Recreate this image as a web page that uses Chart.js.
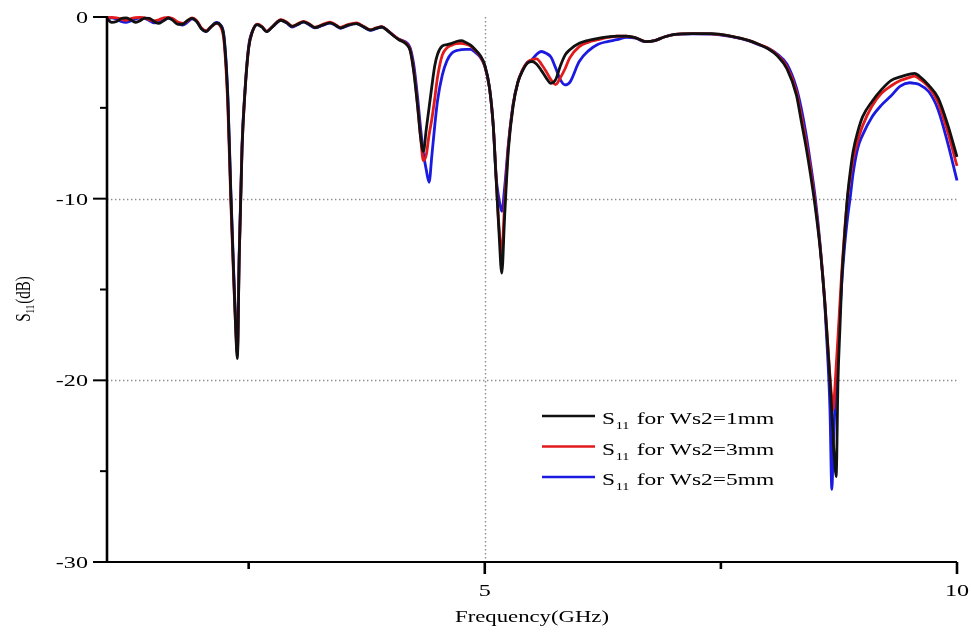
<!DOCTYPE html>
<html>
<head>
<meta charset="utf-8">
<title>S11 vs Frequency</title>
<script src="https://cdn.jsdelivr.net/npm/chart.js@4.4.1/dist/chart.umd.min.js"></script>
<style>
  html, body { margin: 0; padding: 0; background: #fff; }
  canvas { display: block; }
</style>
</head>
<body>
<canvas id="c" width="971" height="633" style="width:971px;height:633px"></canvas>
<script>
// Frequency sweep (GHz), shared by all three traces
const freqGHz = [
  1.00,1.05,1.10,1.15,1.20,1.25,1.30,1.35,1.40,1.45,1.50,1.55,1.60,1.65,1.70,1.75,1.80,1.85,1.90,1.95,2.00,2.05,2.10,
  2.16,2.20,2.24,2.28,2.31,2.34,2.36,2.38,2.40,2.43,2.46,2.50,2.54,2.59,2.64,2.69,2.76,2.84,
  2.90,2.96,3.02,3.08,3.14,3.20,3.28,3.36,3.42,3.47,3.55,3.64,3.72,3.79,3.85,3.91,3.97,4.03,4.09,4.13,4.17,4.21,
  4.25,4.29,4.32,4.35,4.38,4.41,4.44,4.47,4.50,4.55,4.60,4.65,4.70,4.75,4.80,4.85,4.90,4.95,5.00,
  5.05,5.09,5.12,5.15,5.18,5.21,5.25,5.30,5.35,5.40,5.45,5.50,5.55,5.60,5.65,5.70,5.75,5.80,5.85,5.90,
  6.00,6.10,6.20,6.30,6.40,6.50,6.60,6.70,6.80,6.90,7.00,7.20,7.40,7.60,7.80,7.90,8.00,8.10,8.20,8.30,
  8.35,8.40,8.45,8.50,8.55,8.60,8.63,8.655,8.675,8.69,8.705,8.72,8.74,8.76,8.78,8.81,8.84,8.87,8.90,8.95,
  9.00,9.10,9.20,9.30,9.40,9.50,9.55,9.60,9.70,9.80,9.90,10.00
];

// S11 (dB) for Ws2 = 1 mm
const s11Ws2_1mm = [
  -0.10,-0.30,-0.25,-0.08,-0.05,-0.15,-0.30,-0.20,-0.06,-0.08,-0.25,-0.35,-0.20,-0.05,-0.20,-0.40,-0.40,-0.20,-0.08,-0.25,-0.65,-0.80,-0.55,
  -0.33,-0.45,-1.2,-4.6,-9.6,-14.0,-16.8,-18.8,-13.2,-7.2,-4.2,-1.7,-0.8,-0.42,-0.55,-0.8,-0.5,-0.18,
  -0.30,-0.52,-0.40,-0.27,-0.40,-0.58,-0.45,-0.32,-0.45,-0.60,-0.45,-0.36,-0.55,-0.72,-0.62,-0.55,-0.75,-1.02,-1.25,-1.35,-1.50,-1.85,
  -3.1,-5.0,-6.6,-7.4,-6.2,-5.0,-3.8,-2.7,-2.05,-1.6,-1.52,-1.45,-1.35,-1.30,-1.40,-1.55,-1.80,-2.10,-2.65,
  -3.9,-6.0,-8.9,-11.8,-14.1,-11.0,-7.3,-4.9,-3.6,-2.95,-2.55,-2.45,-2.6,-2.95,-3.35,-3.65,-3.45,-2.7,-2.1,-1.8,
  -1.45,-1.28,-1.17,-1.10,-1.05,-1.05,-1.15,-1.35,-1.30,-1.10,-0.97,-0.92,-0.92,-1.05,-1.30,-1.50,-1.75,-2.15,-2.85,-4.3,
  -5.7,-7.1,-8.7,-10.5,-12.7,-15.7,-18.0,-20.0,-21.8,-23.4,-24.5,-25.3,-20.0,-17.2,-14.5,-12.0,-9.9,-8.5,-7.4,-6.3,
  -5.5,-4.65,-4.0,-3.5,-3.3,-3.15,-3.1,-3.25,-3.75,-4.45,-5.9,-7.7
];

// S11 (dB) for Ws2 = 3 mm
const s11Ws2_3mm = [
  -0.05,-0.02,-0.05,-0.12,-0.18,-0.10,-0.03,-0.02,-0.05,-0.15,-0.22,-0.15,-0.05,-0.02,-0.10,-0.28,-0.35,-0.22,-0.05,-0.20,-0.60,-0.75,-0.55,
  -0.35,-0.50,-1.4,-5.0,-10.0,-14.3,-16.8,-18.6,-13.2,-7.2,-4.2,-1.7,-0.8,-0.40,-0.52,-0.78,-0.48,-0.15,
  -0.27,-0.50,-0.38,-0.24,-0.37,-0.56,-0.42,-0.28,-0.42,-0.57,-0.42,-0.33,-0.52,-0.70,-0.60,-0.53,-0.73,-1.00,-1.22,-1.32,-1.45,-1.80,
  -3.0,-4.9,-6.6,-7.9,-7.6,-6.5,-5.6,-4.5,-3.3,-2.1,-1.7,-1.55,-1.47,-1.45,-1.50,-1.60,-1.85,-2.15,-2.70,
  -3.9,-6.0,-8.8,-11.5,-13.0,-10.3,-7.1,-4.85,-3.6,-2.9,-2.5,-2.35,-2.3,-2.6,-3.0,-3.45,-3.72,-3.35,-2.85,-2.25,
  -1.63,-1.38,-1.25,-1.12,-1.06,-1.05,-1.15,-1.35,-1.30,-1.10,-0.97,-0.92,-0.93,-1.05,-1.30,-1.50,-1.72,-2.10,-2.75,-4.1,
  -5.4,-6.8,-8.4,-10.3,-12.6,-15.6,-17.9,-19.8,-21.0,-21.6,-20.6,-19.3,-17.6,-15.8,-14.0,-11.8,-10.0,-8.8,-7.8,-6.8,
  -6.0,-4.9,-4.2,-3.8,-3.5,-3.32,-3.25,-3.4,-3.85,-4.7,-6.3,-8.2
];

// S11 (dB) for Ws2 = 5 mm
const s11Ws2_5mm = [
  -0.10,-0.05,-0.12,-0.25,-0.30,-0.22,-0.12,-0.05,-0.08,-0.20,-0.32,-0.30,-0.18,-0.08,-0.15,-0.35,-0.45,-0.30,-0.10,-0.25,-0.65,-0.80,-0.55,
  -0.30,-0.42,-1.1,-4.4,-9.4,-13.8,-16.5,-18.4,-13.0,-7.0,-4.1,-1.6,-0.78,-0.42,-0.55,-0.8,-0.5,-0.18,
  -0.32,-0.55,-0.42,-0.28,-0.42,-0.60,-0.47,-0.33,-0.47,-0.62,-0.47,-0.37,-0.56,-0.74,-0.64,-0.55,-0.75,-1.00,-1.22,-1.30,-1.40,-1.70,
  -2.7,-4.5,-6.1,-7.5,-8.4,-9.1,-7.6,-6.0,-4.6,-3.2,-2.4,-2.0,-1.85,-1.80,-1.78,-1.78,-1.95,-2.20,-2.70,
  -3.9,-6.0,-8.8,-10.0,-10.7,-9.4,-7.0,-4.8,-3.6,-2.95,-2.5,-2.35,-2.05,-1.9,-2.0,-2.2,-2.8,-3.45,-3.74,-3.6,
  -2.45,-1.85,-1.50,-1.35,-1.25,-1.12,-1.17,-1.36,-1.30,-1.10,-0.97,-0.93,-0.94,-1.07,-1.32,-1.52,-1.72,-2.05,-2.6,-3.9,
  -5.0,-6.4,-8.1,-10.0,-12.5,-15.8,-18.6,-21.6,-26.0,-23.6,-21.8,-20.3,-18.3,-16.3,-14.6,-12.6,-11.1,-9.9,-8.6,-7.2,
  -6.5,-5.5,-4.85,-4.35,-3.8,-3.62,-3.65,-3.72,-4.1,-5.1,-6.9,-9.0
];

// Axis ticks
const xMajorTicks = [5, 10];
const xMinorTicks = [2.5, 7.5];
const yMajorTicks = [0, -10, -20, -30];
const yMinorTicks = [-5, -15, -25];
const xGridLines = [5];
const yGridLines = [-10, -20];

const seriesNames = ['for Ws2=1mm', 'for Ws2=3mm', 'for Ws2=5mm'];
const seriesColors = ['#111111', '#e31a1c', '#1a1ae0'];
const seriesValues = [s11Ws2_1mm, s11Ws2_3mm, s11Ws2_5mm];

const SERIF = '"Liberation Serif", "Times New Roman", serif';
const SX = 1.42; // horizontal text stretch

function wideText(ctx, str, x, y, align, px) {
  ctx.save();
  ctx.font = px + 'px ' + SERIF;
  ctx.translate(x, y);
  ctx.scale(SX, 1);
  ctx.textAlign = align;
  ctx.textBaseline = 'alphabetic';
  ctx.fillText(str, 0, 0);
  ctx.restore();
}

const framePlugin = {
  id: 'frame',
  beforeDatasetsDraw(chart) {
    const { ctx, chartArea: a, scales: { x, y } } = chart;
    ctx.save();
    ctx.strokeStyle = '#8c8c8c';
    ctx.lineWidth = 1.4;
    ctx.setLineDash([1.4, 2.6]);
    yGridLines.forEach(v => {
      const py = Math.round(y.getPixelForValue(v)) + 0.5;
      ctx.beginPath(); ctx.moveTo(a.left, py); ctx.lineTo(a.right, py); ctx.stroke();
    });
    xGridLines.forEach(v => {
      const px = Math.round(x.getPixelForValue(v)) + 0.5;
      ctx.beginPath(); ctx.moveTo(px, a.top); ctx.lineTo(px, a.bottom); ctx.stroke();
    });
    ctx.restore();
  },
  afterDatasetsDraw(chart) {
    const { ctx, chartArea: a, scales: { x, y } } = chart;
    ctx.save();
    ctx.strokeStyle = '#000';
    ctx.fillStyle = '#000';
    ctx.lineCap = 'butt';

    // axis lines
    ctx.lineWidth = 2.6;
    ctx.beginPath(); ctx.moveTo(a.left, a.top - 1); ctx.lineTo(a.left, a.bottom + 1); ctx.stroke();
    ctx.lineWidth = 2.2;
    ctx.beginPath(); ctx.moveTo(a.left - 1, a.bottom); ctx.lineTo(a.right, a.bottom); ctx.stroke();

    // y ticks
    ctx.lineWidth = 2;
    yMajorTicks.forEach(v => {
      const py = y.getPixelForValue(v);
      ctx.beginPath(); ctx.moveTo(a.left - 14, py); ctx.lineTo(a.left, py); ctx.stroke();
      wideText(ctx, String(v), a.left - 19, py + 6, 'right', 17);
    });
    yMinorTicks.forEach(v => {
      const py = y.getPixelForValue(v);
      ctx.beginPath(); ctx.moveTo(a.left - 7, py); ctx.lineTo(a.left, py); ctx.stroke();
    });

    // x ticks
    ctx.lineWidth = 2.6;
    xMajorTicks.forEach(v => {
      const px = x.getPixelForValue(v);
      ctx.beginPath(); ctx.moveTo(px, a.bottom); ctx.lineTo(px, a.bottom + 12); ctx.stroke();
      wideText(ctx, String(v), px, a.bottom + 34, 'center', 17);
    });
    xMinorTicks.forEach(v => {
      const px = x.getPixelForValue(v);
      ctx.beginPath(); ctx.moveTo(px, a.bottom); ctx.lineTo(px, a.bottom + 7); ctx.stroke();
    });

    // x axis title
    wideText(ctx, 'Frequency(GHz)', (a.left + a.right) / 2, 622, 'center', 16);

    // y axis title, rotated, with subscript
    ctx.save();
    ctx.translate(30, 299);
    ctx.rotate(-Math.PI / 2);
    ctx.scale(1, SX);
    ctx.textBaseline = 'alphabetic';
    ctx.textAlign = 'left';
    ctx.font = '15px ' + SERIF;
    const wS = ctx.measureText('S').width;
    const wP = ctx.measureText('(dB)').width;
    ctx.font = '9px ' + SERIF;
    const wSub = ctx.measureText('11').width;
    const total = wS + wSub + 1 + wP;
    let cx = -total / 2;
    ctx.font = '15px ' + SERIF;
    ctx.fillText('S', cx, 0);
    ctx.font = '9px ' + SERIF;
    ctx.fillText('11', cx + wS, 3);
    ctx.font = '15px ' + SERIF;
    ctx.fillText('(dB)', cx + wS + wSub + 1, 0);
    ctx.restore();

    // legend
    const lineX0 = 542, lineX1 = 595, textX = 602;
    const rowY = [416, 446.5, 477];
    seriesNames.forEach((name, i) => {
      const ly = rowY[i];
      ctx.strokeStyle = seriesColors[i];
      ctx.lineWidth = 2.6;
      ctx.beginPath(); ctx.moveTo(lineX0, ly); ctx.lineTo(lineX1, ly); ctx.stroke();
      ctx.save();
      ctx.fillStyle = '#000';
      ctx.translate(textX, ly + 8);
      ctx.scale(SX, 1);
      ctx.textAlign = 'left';
      ctx.textBaseline = 'alphabetic';
      ctx.font = '16.5px ' + SERIF;
      const w1 = ctx.measureText('S').width;
      ctx.fillText('S', 0, 0);
      ctx.font = '10px ' + SERIF;
      const w2 = ctx.measureText('11').width;
      ctx.fillText('11', w1 + 0.5, 5);
      ctx.font = '16.5px ' + SERIF;
      ctx.fillText(' ' + name, w1 + w2 + 1.5, 0);
      ctx.restore();
    });
    ctx.restore();
  }
};

const datasets = seriesValues.map((vals, i) => ({
  label: 'S11 ' + seriesNames[i],
  data: freqGHz.map((f, k) => ({ x: f, y: vals[k] })),
  borderColor: seriesColors[i],
  borderWidth: 2.8,
  pointRadius: 0,
  fill: false,
  cubicInterpolationMode: 'monotone',
  clip: 4
}));

new Chart(document.getElementById('c'), {
  type: 'line',
  data: { datasets },
  options: {
    responsive: false,
    animation: false,
    devicePixelRatio: 1,
    layout: { padding: { left: 107, right: 14, top: 17, bottom: 71 } },
    scales: {
      x: { type: 'linear', min: 1, max: 10, display: false },
      y: { type: 'linear', min: -30, max: 0, display: false }
    },
    plugins: { legend: { display: false }, tooltip: { enabled: false } }
  },
  plugins: [framePlugin]
});
</script>
</body>
</html>
